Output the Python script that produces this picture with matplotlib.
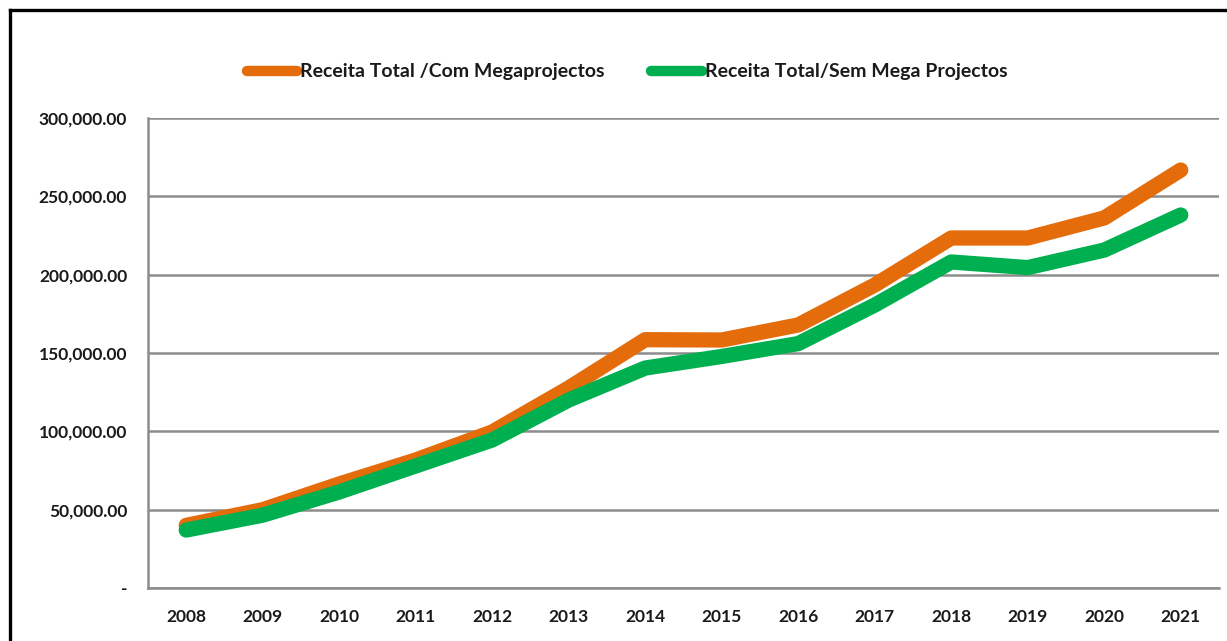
import matplotlib
matplotlib.use("Agg")
import matplotlib.pyplot as plt
from matplotlib.lines import Line2D
from matplotlib.ticker import FixedLocator, FuncFormatter

years = ["2008", "2009", "2010", "2011", "2012", "2013", "2014",
         "2015", "2016", "2017", "2018", "2019", "2020", "2021"]
com_mega = [40000, 50000, 66400, 81700, 99600, 127700, 158500,
            158300, 167900, 193400, 223400, 223400, 236200, 266800]
sem_mega = [37000, 46500, 61300, 77900, 94500, 120000, 140400,
            147800, 156000, 180600, 208100, 204500, 215700, 238100]
labels = ["Receita Total /Com Megaprojectos", "Receita Total/Sem Mega Projectos"]
yticks = [0, 50000, 100000, 150000, 200000, 250000, 300000]

W, H = 1227, 641
fig = plt.figure(figsize=(W / 100, H / 100), dpi=100)
fig.patch.set_facecolor("white")
ax = fig.add_axes([148 / W, 1 - 588 / H, (1219 - 148) / W, (588 - 118) / H])

fam = ["Lato", "DejaVu Sans"]
orange = "#E46C0A"
green = "#00B050"
x = list(range(len(years)))
l1, = ax.plot(x, com_mega, color=orange, lw=11, solid_capstyle="round",
              solid_joinstyle="round", zorder=3)
l2, = ax.plot(x, sem_mega, color=green, lw=11, solid_capstyle="round",
              solid_joinstyle="round", zorder=4)

ax.set_xlim(-0.5, len(years) - 0.5)
ax.set_ylim(0, 300000)
ax.yaxis.set_major_locator(FixedLocator(yticks))
ax.yaxis.set_major_formatter(FuncFormatter(lambda v, p: "-" if v == 0 else f"{v:,.2f}"))
ax.set_xticks(x)
ax.set_xticklabels(years)
ax.grid(axis="y", color="#8c8c8c", lw=1.8, zorder=1)
ax.set_axisbelow(True)
for s in ["top", "right"]:
    ax.spines[s].set_visible(False)
for s in ["left", "bottom"]:
    ax.spines[s].set_color("#8c8c8c")
    ax.spines[s].set_linewidth(1.8)
ax.tick_params(axis="both", length=0)
ax.tick_params(axis="y", pad=15)
ax.tick_params(axis="x", pad=15)
for t in ax.get_xticklabels() + ax.get_yticklabels():
    t.set_family(fam)
    t.set_fontweight("bold")
    t.set_fontsize(12.5)
    t.set_color("#1a1a1a")

h1 = Line2D([], [], color=orange, lw=7.5, solid_capstyle="round")
h2 = Line2D([], [], color=green, lw=7.5, solid_capstyle="round")
leg = fig.legend([h1, h2], labels, loc="center", bbox_to_anchor=(627 / W, 1 - 72 / H),
                 ncol=2, frameon=False, handlelength=2.6, handletextpad=0.15,
                 columnspacing=2.4, prop={"family": fam, "size": 14, "weight": "bold"})
for t in leg.get_texts():
    t.set_color("#1a1a1a")

# outer frame (top and left edges visible, others cut off)
fig.add_artist(Line2D([10 / W, 1.0], [1 - 10 / H, 1 - 10 / H], transform=fig.transFigure,
                      color="black", lw=2.4))
fig.add_artist(Line2D([10 / W, 10 / W], [0.0, 1 - 10 / H], transform=fig.transFigure,
                      color="black", lw=2.4))

fig.savefig("out.png", dpi=100)
